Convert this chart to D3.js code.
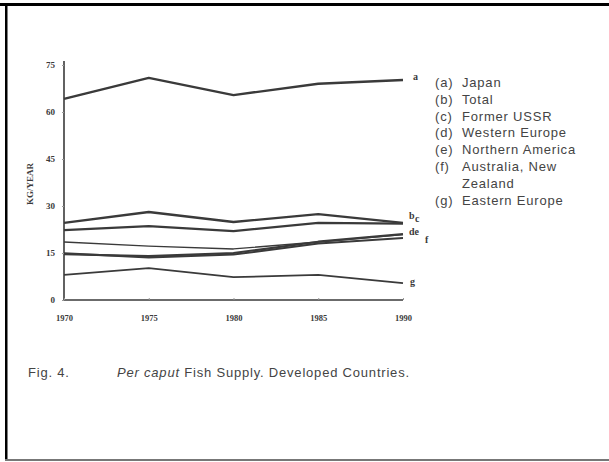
<!DOCTYPE html>
<html>
<head>
<meta charset="utf-8">
<script src="https://cdn.jsdelivr.net/npm/d3@7"></script>
<style>
  html, body { margin: 0; padding: 0; background: #fff; }
  svg { display: block; }
</style>
</head>
<body>
<svg id="chart" width="609" height="462"></svg>
<script>
// Per caput fish supply, kg/year, developed countries
const years = [1970, 1975, 1980, 1985, 1990];
const yTicks = [0, 15, 30, 45, 60, 75];

const japan          = [64.2, 70.9, 65.4, 69.0, 70.2];
const total          = [22.3, 23.6, 22.0, 24.6, 24.4];
const formerUSSR     = [24.6, 28.1, 24.9, 27.4, 24.6];
const westernEurope  = [18.5, 17.2, 16.3, 18.5, 20.9];
const northernAmerica= [14.6, 14.0, 15.0, 18.6, 21.0];
const australiaNZ    = [14.9, 13.6, 14.5, 18.0, 19.8];
const easternEurope  = [8.0, 10.2, 7.3, 8.0, 5.4];

const seriesNames = ["Japan", "Total", "Former USSR", "Western Europe",
                     "Northern America", "Australia, New Zealand", "Eastern Europe"];
const seriesKeys  = ["a", "b", "c", "d", "e", "f", "g"];

const series = [
  { key: "a", values: japan,           width: 2.4 },
  { key: "b", values: total,           width: 2.2 },
  { key: "c", values: formerUSSR,      width: 2.4 },
  { key: "d", values: westernEurope,   width: 1.4 },
  { key: "e", values: northernAmerica, width: 2.2 },
  { key: "f", values: australiaNZ,     width: 2.0 },
  { key: "g", values: easternEurope,   width: 1.8 }
];

const ink = "#3a3a3a";
const svg = d3.select("#chart");

// page frame
svg.append("rect").attr("x", 0).attr("y", 3).attr("width", 609).attr("height", 3).attr("fill", "#000");
svg.append("rect").attr("x", 5).attr("y", 3).attr("width", 2.5).attr("height", 458).attr("fill", "#000");
svg.append("rect").attr("x", 5).attr("y", 459).attr("width", 604).attr("height", 2).attr("fill", "#777");

const x = d3.scaleLinear().domain([1970, 1990]).range([64, 403]);
const y = d3.scaleLinear().domain([0, 75]).range([300, 65]);

// y axis
const yAxis = svg.append("g")
  .attr("transform", `translate(${x(1970)},0)`)
  .call(d3.axisLeft(y).tickValues(yTicks).tickSize(2).tickPadding(7).tickFormat(d3.format("d")));
yAxis.select(".domain").attr("d", `M0,${y(0)}V${y(75) - 4}`).attr("stroke", ink).attr("stroke-width", 1.6);
yAxis.selectAll(".tick line").attr("stroke", "#999");
yAxis.selectAll("text")
  .attr("font-family", "Liberation Serif, serif")
  .attr("font-weight", "bold")
  .attr("font-size", 9)
  .attr("fill", ink);

// x axis
const xAxis = svg.append("g")
  .attr("transform", `translate(0,${y(0)})`)
  .call(d3.axisBottom(x).tickValues(years).tickSize(-2).tickPadding(15).tickFormat(d3.format("d")));
xAxis.select(".domain").attr("d", `M${x(1970)},0H${x(1990)}`).attr("stroke", ink).attr("stroke-width", 1.6);
xAxis.selectAll(".tick line").attr("stroke", "#999");
xAxis.selectAll("text")
  .attr("font-family", "Liberation Serif, serif")
  .attr("font-weight", "bold")
  .attr("font-size", 8.5)
  .attr("fill", ink);

// y axis title
svg.append("text")
  .attr("transform", `translate(${33},${y(37)}) rotate(-90)`)
  .attr("text-anchor", "middle")
  .attr("font-family", "Liberation Serif, serif")
  .attr("font-weight", "bold")
  .attr("font-size", 9)
  .attr("fill", ink)
  .text("KG/YEAR");

// series lines
const line = d3.line()
  .x((d, i) => x(years[i]))
  .y(d => y(d));

svg.append("g").selectAll("path")
  .data(series)
  .join("path")
  .attr("d", d => line(d.values))
  .attr("fill", "none")
  .attr("stroke", ink)
  .attr("stroke-width", d => d.width)
  .attr("stroke-linejoin", "round");

// end-of-line letters
const endLabels = [
  { text: "a",  v: japan[4],          dx: 10, dy: -2 },
  { text: "b",  v: total[4],          dx: 6,  dy: -7 },
  { text: "c",  v: formerUSSR[4],     dx: 12, dy: -3 },
  { text: "de", v: westernEurope[4],  dx: 6,  dy: -2 },
  { text: "f",  v: australiaNZ[4],    dx: 22, dy: 3 },
  { text: "g",  v: easternEurope[4],  dx: 7,  dy: 0 }
];
svg.append("g").selectAll("text")
  .data(endLabels)
  .join("text")
  .attr("x", d => x(1990) + d.dx)
  .attr("y", d => y(d.v) + d.dy)
  .attr("dominant-baseline", "middle")
  .attr("font-family", "Liberation Serif, serif")
  .attr("font-weight", "bold")
  .attr("font-size", 10)
  .attr("fill", ink)
  .text(d => d.text);

// legend
const legendRows = [
  { k: "(a)", t: "Japan" },
  { k: "(b)", t: "Total" },
  { k: "(c)", t: "Former USSR" },
  { k: "(d)", t: "Western Europe" },
  { k: "(e)", t: "Northern America" },
  { k: "(f)", t: "Australia, New" },
  { k: "",    t: "Zealand" },
  { k: "(g)", t: "Eastern Europe" }
];
const legend = svg.append("g")
  .attr("font-family", "Liberation Sans, Arial, sans-serif")
  .attr("font-size", 13)
  .attr("letter-spacing", 0.8)
  .attr("fill", "#444");
legendRows.forEach((r, i) => {
  const yy = 87 + i * 16.8;
  legend.append("text").attr("x", 435).attr("y", yy).text(r.k);
  legend.append("text").attr("x", 462).attr("y", yy).text(r.t);
});

// caption
const caption = svg.append("g")
  .attr("font-family", "Liberation Sans, Arial, sans-serif")
  .attr("font-size", 13)
  .attr("letter-spacing", 0.8)
  .attr("fill", "#444");
caption.append("text").attr("x", 28).attr("y", 377).text("Fig. 4.");
const cap = caption.append("text").attr("x", 117).attr("y", 377);
cap.append("tspan").attr("font-style", "italic").text("Per caput");
cap.append("tspan").text(" Fish Supply. Developed Countries.");
</script>
</body>
</html>
